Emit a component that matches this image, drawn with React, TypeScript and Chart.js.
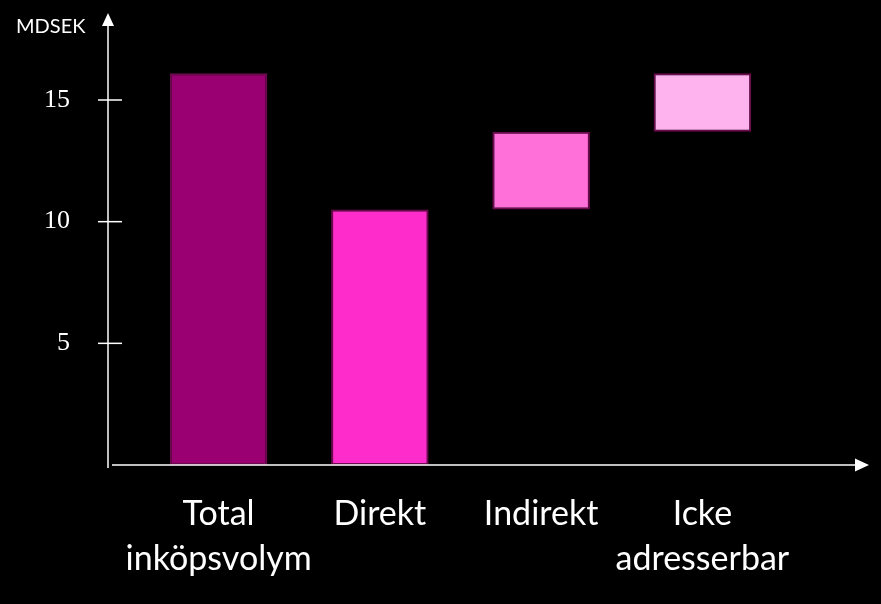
import { useRef, useEffect } from "react"
import { Chart, registerables } from "chart.js"

Chart.register(...registerables)

// Chart data (MDSEK)
const categories = [["Total", "inköpsvolym"], ["Direkt"], ["Indirekt"], ["Icke", "adresserbar"]]
const barStart = [0, 0, 10.5, 13.7]
const barEnd = [16.1, 10.5, 13.7, 16.1]
const yTicks = [5, 10, 15]
const barColors = ["#9b0073", "#ff2ccc", "#ff70d9", "#ffb3ee"]

// Hand-drawn style axes with arrow heads
const axesPlugin = {
  id: "arrowAxes",
  afterDraw(chart: any) {
    const ctx = chart.ctx
    const y = chart.scales.y
    const zeroY = y.getPixelForValue(0)
    const axisX = 108
    ctx.save()
    ctx.strokeStyle = "#ffffff"
    ctx.fillStyle = "#ffffff"
    ctx.lineWidth = 1.5

    // y axis
    ctx.beginPath()
    ctx.moveTo(axisX, zeroY + 3)
    ctx.lineTo(axisX, 24)
    ctx.stroke()
    ctx.beginPath()
    ctx.moveTo(axisX, 13)
    ctx.lineTo(axisX - 6, 26)
    ctx.lineTo(axisX + 6, 26)
    ctx.closePath()
    ctx.fill()

    // x axis
    ctx.beginPath()
    ctx.moveTo(axisX + 4, zeroY)
    ctx.lineTo(857, zeroY)
    ctx.stroke()
    ctx.beginPath()
    ctx.moveTo(869, zeroY)
    ctx.lineTo(855, zeroY - 6.5)
    ctx.lineTo(855, zeroY + 6.5)
    ctx.closePath()
    ctx.fill()

    // tick marks
    yTicks.forEach((v) => {
      const py = y.getPixelForValue(v)
      ctx.beginPath()
      ctx.moveTo(98, py)
      ctx.lineTo(122, py)
      ctx.stroke()
    })

    // unit label
    ctx.font = "20px Lato"
    ctx.textAlign = "left"
    ctx.textBaseline = "alphabetic"
    ctx.fillText("MDSEK", 16, 33)
    ctx.restore()
  },
}

function WaterfallChart() {
  const chartRef = useRef<HTMLCanvasElement>(null)
  const chartInstance = useRef<Chart | null>(null)

  useEffect(() => {
    if (!chartRef.current) return

    if (chartInstance.current) {
      chartInstance.current.destroy()
    }

    const ctx = chartRef.current.getContext("2d")
    if (ctx) {
      chartInstance.current = new Chart(ctx, {
        type: "bar",
        data: {
          labels: categories,
          datasets: [
            {
              data: barStart.map((s, i) => [s, barEnd[i]]),
              backgroundColor: barColors,
              borderColor: "#6b0a4c",
              borderWidth: 2,
              borderSkipped: false,
              barPercentage: 0.605,
              categoryPercentage: 1,
            },
          ],
        },
        options: {
          responsive: true,
          maintainAspectRatio: false,
          animation: false,
          layout: {
            padding: { top: 27, right: 98, bottom: 0, left: 0 },
          },
          plugins: {
            legend: { display: false },
            tooltip: { enabled: false },
          },
          scales: {
            x: {
              grid: { display: false, drawTicks: false },
              border: { display: false },
              afterFit: (axis: any) => {
                axis.height = 139
              },
              ticks: {
                color: "#ffffff",
                padding: 27,
                maxRotation: 0,
                autoSkip: false,
                font: { family: "Lato", size: 34, lineHeight: 1.32 },
              },
            },
            y: {
              min: 0,
              max: 18,
              grid: { display: false, drawTicks: false },
              border: { display: false },
              afterBuildTicks: (axis: any) => {
                axis.ticks = yTicks.map((v) => ({ value: v }))
              },
              afterFit: (axis: any) => {
                // big label padding would otherwise push the plot area down
                axis.width = 138
                axis.paddingTop = 0
                axis.paddingBottom = 0
              },
              ticks: {
                color: "#ffffff",
                padding: 68,
                font: { family: "Liberation Serif", size: 26 },
              },
            },
          },
        },
        plugins: [axesPlugin],
      })
    }

    return () => {
      if (chartInstance.current) {
        chartInstance.current.destroy()
      }
    }
  }, [])

  return <canvas ref={chartRef} />
}

export default function App() {
  return (
    <div style={{ position: "fixed", left: 0, top: 0, width: 881, height: 604, background: "#000000" }}>
      <WaterfallChart />
    </div>
  )
}
